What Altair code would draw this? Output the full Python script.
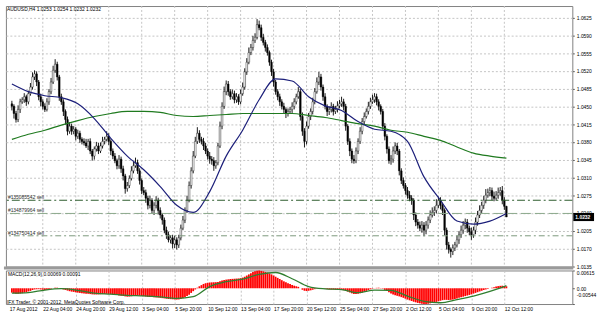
import altair as alt
import pandas as pd

symbol_title = "AUDUSD,H4  1.0253 1.0254 1.0232 1.0232"
macd_title = "MACD(12,26,9) 0.00069 0.00091"
footer_text = "IFX Trader, \u00a9 2001-2012, MetaQuotes Software Corp."

# ---- price bars (H4), prices in pips (1e-4) ----
first_open_pips = 10455
close_pips = [
    10450, 10436, 10424, 10444, 10459, 10463, 10469, 10459, 10475, 10488,
    10508, 10514, 10498, 10469, 10459, 10450, 10444, 10459, 10479, 10498,
    10521, 10533, 10508, 10469, 10459, 10440, 10424, 10401, 10411, 10401,
    10405, 10391, 10397, 10385, 10381, 10378, 10372, 10381, 10362, 10352,
    10366, 10372, 10362, 10372, 10381, 10385, 10391, 10381, 10362, 10352,
    10343, 10333, 10346, 10327, 10313, 10288, 10294, 10308, 10323, 10333,
    10339, 10323, 10304, 10284, 10280, 10269, 10255, 10265, 10245, 10255,
    10265, 10245, 10236, 10226, 10206, 10197, 10187, 10191, 10179, 10187,
    10177, 10191, 10210, 10226, 10245, 10265, 10294, 10323, 10352, 10381,
    10397, 10385, 10381, 10372, 10362, 10352, 10346, 10343, 10333, 10339,
    10372, 10411, 10450, 10479, 10494, 10479, 10469, 10475, 10463, 10469,
    10459, 10475, 10488, 10518, 10537, 10556, 10566, 10580, 10586, 10611,
    10605, 10586, 10576, 10566, 10556, 10537, 10518, 10498, 10479, 10469,
    10459, 10450, 10444, 10436, 10440, 10444, 10450, 10459, 10469, 10479,
    10430, 10401, 10381, 10411, 10430, 10440, 10459, 10479, 10498, 10508,
    10488, 10469, 10450, 10440, 10444, 10450, 10440, 10444, 10451, 10455,
    10459, 10450, 10411, 10381, 10362, 10346, 10343, 10362, 10381, 10401,
    10420, 10430, 10440, 10450, 10459, 10463, 10469, 10459, 10450, 10440,
    10411, 10391, 10366, 10343, 10346, 10362, 10372, 10362, 10323, 10304,
    10294, 10284, 10275, 10269, 10265, 10236, 10222, 10216, 10210, 10216,
    10206, 10216, 10226, 10236, 10241, 10245, 10255, 10265, 10255, 10245,
    10206, 10177, 10168, 10164, 10171, 10177, 10187, 10197, 10206, 10216,
    10222, 10210, 10203, 10197, 10206, 10222, 10236, 10245, 10255, 10265,
    10275, 10280, 10284, 10273, 10269, 10275, 10280, 10284, 10265, 10253,
    10232,
]
upper_wick_pips = [
    6, 4, 5, 8, 6, 5, 7, 4, 6, 8,
    9, 7, 5, 4, 6, 5, 6, 7, 5, 8,
    9, 10, 5, 4, 6, 5, 4, 6, 8, 5,
    6, 4, 7, 5, 4, 6, 8, 5, 6, 4,
    5, 8, 6, 7, 9, 5, 10, 6, 4, 5,
    6, 4, 8, 5, 6, 4, 7, 6, 9, 8,
    10, 6, 5, 4, 7, 6, 5, 9, 4, 6,
    8, 5, 6, 4, 5, 7, 6, 5, 6, 8,
    5, 6, 7, 8, 6, 9, 8, 7, 10, 9,
    12, 6, 5, 7, 6, 5, 8, 6, 7, 5,
    6, 9, 8, 10, 7, 6, 5, 8, 6, 7,
    5, 8, 9, 7, 8, 10, 7, 9, 8, 11,
    8, 6, 7, 5, 6, 4, 5, 6, 4, 5,
    6, 5, 7, 4, 6, 5, 8, 7, 6, 9,
    5, 8, 6, 9, 7, 6, 8, 7, 9, 10,
    6, 5, 7, 4, 6, 8, 5, 7, 9, 8,
    10, 6, 5, 4, 6, 5, 8, 7, 6, 8,
    7, 8, 6, 9, 8, 10, 7, 6, 5, 4,
    5, 6, 4, 5, 8, 9, 7, 6, 4, 5,
    6, 5, 7, 8, 6, 4, 5, 6, 7, 8,
    6, 8, 7, 9, 10, 8, 12, 7, 6, 5,
    4, 5, 6, 4, 7, 6, 8, 7, 9, 8,
    7, 6, 5, 8, 7, 9, 8, 10, 7, 9,
    12, 8, 7, 6, 9, 8, 10, 7, 9, 6,
    1,
]
lower_wick_pips = [
    8, 10, 6, 5, 7, 4, 6, 8, 5, 4,
    5, 6, 8, 7, 9, 6, 5, 4, 6, 5,
    4, 5, 7, 8, 6, 9, 10, 8, 5, 7,
    6, 8, 5, 7, 6, 5, 4, 8, 6, 9,
    7, 5, 6, 4, 5, 6, 4, 7, 8, 6,
    5, 7, 6, 8, 9, 10, 6, 5, 4, 5,
    4, 6, 8, 7, 5, 9, 8, 6, 7, 9,
    6, 8, 7, 9, 6, 8, 5, 7, 9, 8,
    9, 6, 5, 4, 6, 5, 4, 6, 5, 4,
    5, 7, 6, 8, 6, 7, 9, 8, 10, 6,
    5, 4, 6, 5, 7, 8, 6, 5, 7, 6,
    6, 5, 4, 5, 6, 4, 5, 6, 5, 4,
    5, 7, 6, 8, 6, 7, 8, 9, 6, 7,
    8, 6, 7, 9, 6, 5, 7, 6, 5, 4,
    8, 9, 12, 6, 5, 7, 6, 5, 4, 6,
    7, 8, 6, 9, 7, 6, 8, 5, 6, 5,
    6, 8, 9, 7, 10, 8, 6, 5, 6, 5,
    6, 5, 4, 6, 5, 4, 6, 7, 8, 6,
    7, 8, 9, 6, 8, 7, 6, 8, 9, 7,
    6, 8, 7, 6, 9, 10, 8, 7, 6, 9,
    12, 8, 7, 6, 5, 7, 6, 5, 8, 9,
    10, 9, 8, 12, 7, 6, 5, 8, 6, 7,
    8, 9, 7, 10, 6, 8, 7, 6, 5, 7,
    6, 5, 7, 8, 6, 5, 7, 6, 8, 7,
    0,
]
# MACD main (histogram), in 1e-5
macd_main_e5 = [
    -150, -170, -190, -190, -180, -170, -150, -130, -110, -90,
    -60, -40, -30, -30, -40, -50, -60, -50, -40, -20,
    0, 20, 20, 0, -20, -40, -60, -80, -100, -115,
    -125, -140, -150, -160, -170, -180, -185, -190, -200, -210,
    -215, -215, -210, -205, -200, -195, -190, -195, -205, -215,
    -225, -235, -245, -255, -265, -280, -290, -285, -275, -265,
    -255, -250, -255, -265, -275, -285, -295, -300, -305, -310,
    -315, -320, -330, -340, -350, -360, -370, -375, -380, -385,
    -390, -385, -370, -345, -310, -270, -220, -160, -100, -40,
    20, 70, 110, 150, 175, 190, 200, 205, 208, 210,
    220, 240, 265, 285, 300, 310, 320, 325, 330, 335,
    340, 350, 370, 400, 440, 480, 520, 560, 590, 610,
    612, 600, 585, 565, 545, 515, 480, 440, 400, 360,
    320, 280, 240, 205, 175, 145, 115, 90, 70, 50,
    0, -50, -85, -95, -85, -70, -50, -30, -10, 5,
    10, 0, -15, -30, -40, -45, -45, -50, -50, -50,
    -55, -65, -85, -115, -145, -175, -195, -200, -190, -170,
    -150, -120, -90, -60, -35, -15, 5, 15, 20, 10,
    -15, -55, -95, -140, -180, -215, -240, -260, -280, -305,
    -330, -360, -390, -415, -440, -465, -485, -505, -520, -535,
    -544, -540, -530, -520, -505, -490, -470, -450, -430, -410,
    -400, -400, -405, -400, -390, -370, -350, -330, -310, -290,
    -270, -250, -230, -210, -185, -160, -135, -110, -85, -60,
    -40, -20, 0, 20, 40, 60, 75, 85, 90, 80,
    69,
]
# smooth lines, sampled every 8 bars
sample_step = 8
signal_e5 = [-170, -150, -60, -15, -70, -170, -205, -245, -265, -300,
             -350, -290, 60, 230, 320, 480, 545, 330, 60, -20,
             -45, -150, -60, -70, -270, -450, -500, -390, -270, -110, 91]
ma_blue_pips = [10494, 10479, 10471, 10467, 10455, 10426, 10387, 10352, 10325, 10292,
                10255, 10241, 10282, 10352, 10403, 10463, 10504, 10500, 10469, 10451,
                10442, 10420, 10405, 10401, 10381, 10311, 10265, 10224, 10218, 10224, 10239]
ma_green_pips = [10385, 10395, 10403, 10413, 10422, 10430, 10436, 10440, 10440, 10438,
                 10432, 10430, 10432, 10434, 10436, 10436, 10436, 10436, 10432, 10428,
                 10422, 10416, 10411, 10403, 10399, 10391, 10383, 10370, 10358, 10352, 10348]

order_labels = ["#135085542 sell", "#134879964 sell", "#134750414 sell"]
order_prices = [1.0265, 1.0239, 1.0195]

price_ticks = [1.0135, 1.0170, 1.0205, 1.0240, 1.0275, 1.0310, 1.0345, 1.0380,
               1.0415, 1.0450, 1.0485, 1.0520, 1.0555, 1.0590, 1.0625]
macd_ticks = [-0.00544, 0.0, 0.00615]
macd_tick_text = ["-0.00544", "0.00", "0.00615"]
x_label_bars = [-1, 15, 31, 47, 63, 79, 95, 111, 127, 143, 159, 175, 191, 207, 223, 239]
x_label_text = ["17 Aug 2012", "22 Aug 04:00", "24 Aug 20:00", "29 Aug 12:00", "3 Sep 04:00",
                "5 Sep 20:00", "10 Sep 12:00", "13 Sep 04:00", "17 Sep 20:00", "20 Sep 12:00",
                "25 Sep 04:00", "27 Sep 20:00", "2 Oct 12:00", "5 Oct 04:00", "9 Oct 20:00",
                "12 Oct 12:00"]

# ---- tables ----
n = len(close_pips)
open_pips = [first_open_pips] + close_pips[:-1]
bars = pd.DataFrame({
    "i": list(range(n)),
    "open": [o / 1e4 for o in open_pips],
    "close": [c / 1e4 for c in close_pips],
    "high": [(max(o, c) + u) / 1e4 for o, c, u in zip(open_pips, close_pips, upper_wick_pips)],
    "low": [(min(o, c) - d) / 1e4 for o, c, d in zip(open_pips, close_pips, lower_wick_pips)],
    "bull": [c > o for o, c in zip(open_pips, close_pips)],
    "macd": [m / 1e5 for m in macd_main_e5],
})
lines = pd.DataFrame({
    "i": list(range(0, n, sample_step)),
    "blue": [v / 1e4 for v in ma_blue_pips],
    "green": [v / 1e4 for v in ma_green_pips],
    "signal": [v / 1e5 for v in signal_e5],
})
orders = pd.DataFrame({"label": order_labels, "price": order_prices})
current = pd.DataFrame({"price": [close_pips[-1] / 1e4], "txt": ["%.4f" % (close_pips[-1] / 1e4)]})
grid_df = pd.DataFrame({"b": x_label_bars[1:]})

W = 574
H_MAIN = 264
H_MACD = 34
FONT = "Liberation Sans"
GRID = "#c4c4c4"

XS = alt.Scale(domain=[-0.5, 269.6], nice=False, zero=False)
YP = alt.Scale(domain=[1.01344, 1.06477], nice=False, zero=False)
YM = alt.Scale(domain=[-0.00544, 0.00615], nice=False, zero=False)

y_price_axis = alt.Axis(orient="right", values=price_ticks, format=".4f", grid=True,
                        gridColor=GRID, gridDash=[2, 2], tickSize=2, tickColor="#606060",
                        labelPadding=2, labelFontSize=5, labelFont=FONT, labelColor="#000000",
                        domain=False, title=None, labelOverlap=False)

xlab_expr = "''"
for b, t in reversed(list(zip(x_label_bars[1:], x_label_text[1:]))):
    xlab_expr = f"datum.value == {b} ? '{t}' : {xlab_expr}"
x_label_axis = alt.Axis(values=x_label_bars[1:], labelExpr=xlab_expr, labelAlign="left",
                        labelFontSize=5, labelFont=FONT, labelColor="#000000", ticks=False,
                        labelPadding=3, domain=False, grid=True, gridColor=GRID,
                        gridDash=[2, 2], title=None, labelOverlap=False)
mlab_expr = "''"
for v, t in reversed(list(zip(macd_ticks, macd_tick_text))):
    mlab_expr = f"abs(datum.value - ({v})) < 0.0001 ? '{t}' : {mlab_expr}"
y_macd_axis = alt.Axis(orient="right", values=macd_ticks, labelExpr=mlab_expr, grid=False,
                       tickSize=2, tickColor="#606060", labelPadding=2, labelFontSize=5,
                       labelFont=FONT, labelColor="#000000", domain=False, title=None,
                       labelOverlap=False, labelBound=False,
                       labelBaseline={"condition": {"test": "datum.value > 0.001", "value": "top"},
                                      "value": "middle"},
                       labelOffset={"condition": {"test": "datum.value < -0.001", "value": -10},
                                    "value": 0})

X = alt.X("i:Q", scale=XS, axis=None)

base = alt.Chart(bars)
vgrid = alt.Chart(grid_df).mark_rule(color=GRID, strokeDash=[2, 2], strokeWidth=1).encode(
    x=alt.X("b:Q", scale=XS, axis=None))
wicks = base.mark_rule(color="#000000", strokeWidth=0.9).encode(
    x=X, y=alt.Y("low:Q", scale=YP, axis=y_price_axis), y2="high:Q")
bodies = base.mark_bar(size=1.7, stroke="#000000", strokeWidth=0.4).encode(
    x=X, y=alt.Y("open:Q", scale=YP, axis=y_price_axis), y2="close:Q",
    color=alt.condition("datum.bull", alt.value("#ffffff"), alt.value("#000000")))
ma_green = alt.Chart(lines).mark_line(color="#1f7a1f", strokeWidth=1.2, interpolate="monotone").encode(
    x=X, y=alt.Y("green:Q", scale=YP, axis=y_price_axis))
ma_blue = alt.Chart(lines).mark_line(color="#1c1f7a", strokeWidth=1.2, interpolate="monotone").encode(
    x=X, y=alt.Y("blue:Q", scale=YP, axis=y_price_axis))

order_colors = ["#2c5a2c", "#8aa88a", "#7c987c"]
order_dashes = [[8, 3, 2, 3], [10, 4], [6, 3, 2, 3]]
order_layers = []
for k in range(len(order_labels)):
    sub = alt.Chart(orders).transform_filter(alt.datum.label == order_labels[k])
    order_layers.append(sub.mark_rule(color=order_colors[k], strokeDash=order_dashes[k], strokeWidth=1).encode(
        y=alt.Y("price:Q", scale=YP, axis=y_price_axis)))
order_text = alt.Chart(orders).mark_text(align="left", baseline="middle", fontSize=5, font=FONT,
                                         color="#303030", dy=-3).encode(
    x=alt.value(2), y=alt.Y("price:Q", scale=YP, axis=y_price_axis), text="label:N")

title_text = alt.Chart(pd.DataFrame({"t": [symbol_title]})).mark_text(
    align="left", baseline="middle", fontSize=5, font=FONT, color="#000000").encode(
    x=alt.value(1), y=alt.value(3), text="t:N")

cur_box = alt.Chart(current).transform_calculate(
    top="datum.price + 0.0008", bot="datum.price - 0.0008").mark_rect(color="#000000").encode(
    x=alt.value(W + 1), x2=alt.value(W + 22),
    y=alt.Y("top:Q", scale=YP, axis=y_price_axis), y2="bot:Q")
cur_text = alt.Chart(current).mark_text(align="left", baseline="middle", fontSize=5, font=FONT,
                                        color="#ffffff", fontWeight="bold").encode(
    x=alt.value(W + 3), y=alt.Y("price:Q", scale=YP, axis=y_price_axis), text="txt:N")

main = alt.layer(vgrid, wicks, bodies, ma_green, ma_blue, *order_layers, order_text, title_text,
                 cur_box, cur_text).properties(width=W, height=H_MAIN)

XM = alt.X("i:Q", scale=XS, axis=x_label_axis)
hist = base.mark_bar(size=1.8, color="#ff0000").encode(
    x=XM, y=alt.Y("macd:Q", scale=YM, axis=y_macd_axis), y2=alt.datum(0))
sig = alt.Chart(lines).mark_line(color="#2f7f2f", strokeWidth=1.3, interpolate="monotone").encode(
    x=XM, y=alt.Y("signal:Q", scale=YM, axis=y_macd_axis))
sep = alt.Chart(pd.DataFrame({"k": [0]})).mark_rule(color="#9a9a9a", strokeWidth=3).encode(
    x=alt.value(-2), x2=alt.value(W + 1), y=alt.value(-2.5))
macd_label = alt.Chart(pd.DataFrame({"t": [macd_title]})).mark_text(
    align="left", baseline="middle", fontSize=5, font=FONT, color="#000000").encode(
    x=alt.value(2), y=alt.value(4), text="t:N")
footer = alt.Chart(pd.DataFrame({"t": [footer_text]})).mark_text(
    align="left", baseline="middle", fontSize=5, font=FONT, color="#000000").encode(
    x=alt.value(1), y=alt.value(H_MACD - 2), text="t:N")
first_label = alt.Chart(pd.DataFrame({"t": [x_label_text[0]], "b": [x_label_bars[0]]})).mark_text(
    align="left", baseline="top", fontSize=5, font=FONT, color="#000000").encode(
    x=alt.X("b:Q", scale=XS, axis=x_label_axis), y=alt.value(H_MACD + 3), text="t:N")

macd = alt.layer(hist, sig, sep, macd_label, footer, first_label).properties(width=W, height=H_MACD)

chart = alt.vconcat(main, macd, spacing=4, bounds="flush").properties(
    padding={"left": 2, "top": 3, "right": 0, "bottom": 0}, background="#ffffff"
).configure_view(stroke="#808080", strokeWidth=1).configure_axis(labelFont=FONT)

chart.save("out.html", embed_options={"renderer": "svg", "actions": False})
